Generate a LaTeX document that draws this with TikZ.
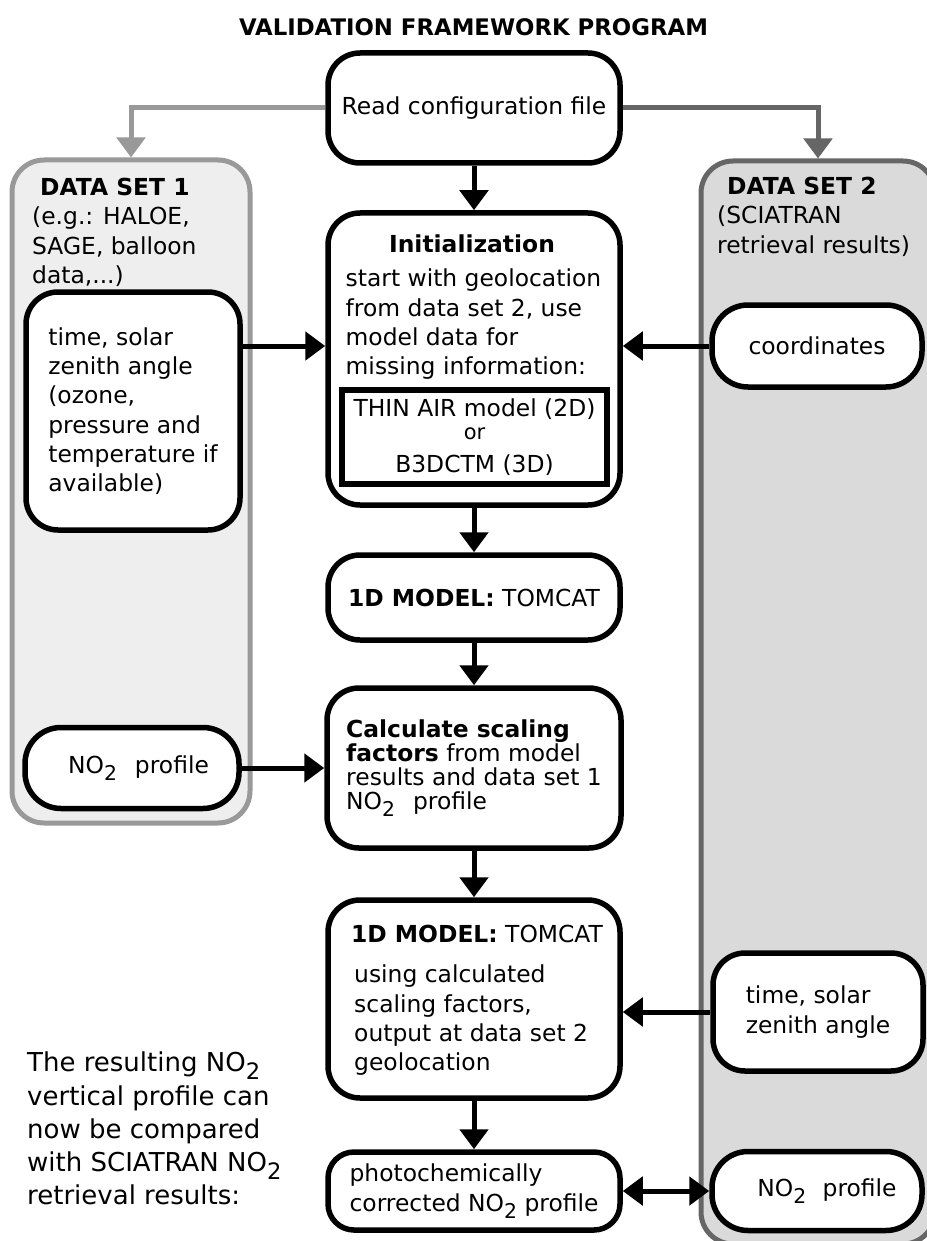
\documentclass[tikz,border=0pt]{standalone}
\usepackage{fontspec}
\setmainfont{DejaVu Sans}
\usepackage{graphicx}
\usetikzlibrary{arrows.meta}

\definecolor{dsonefill}{HTML}{EEEEEE}
\definecolor{dsoneline}{HTML}{999999}
\definecolor{dstwofill}{HTML}{DADADA}
\definecolor{dstwoline}{HTML}{666666}

% NO2 with a lowered, slightly reduced subscript
\newcommand\ntwo{NO\raisebox{-0.3em}{\scalebox{0.87}{2}}}

\begin{document}
\begin{tikzpicture}[x=1pt,y=-1pt,
  every node/.style={font=\fontsize{23.4}{29.3}\selectfont, inner sep=0pt},
  box/.style={draw, line width=5.5pt, rounded corners=32pt, fill=white},
  pill/.style={box, rounded corners=36pt},
  group/.style={line width=5pt, rounded corners=32pt},
  arr/.style={line width=5pt, -{Triangle[length=20pt,width=28pt]}},
  biarr/.style={line width=5pt, {Triangle[length=20pt,width=28pt]}-{Triangle[length=20pt,width=28pt]}},
]
\useasboundingbox (0,0) rectangle (926,1241);
\fill[white] (0,0) rectangle (926,1241);

% title
\node[font=\bfseries\fontsize{22.8}{27}\selectfont] (title) at (473.5,27) {VALIDATION FRAMEWORK PROGRAM};

% the two data-set columns
\node[group, draw=dsoneline, fill=dsonefill, minimum width=238pt, minimum height=663pt] (ds1) at (131,491.5) {};
\node[group, draw=dstwoline, fill=dstwofill, minimum width=234pt, minimum height=1083pt] (ds2) at (818,702.5) {};

\node[anchor=north west, align=left] (ds1lbl) at (32,178)
  {\hspace*{8pt}\textbf{DATA SET 1}\\(e.g.: HALOE,\\SAGE, balloon\\data,...)};
\node[anchor=north west, align=left] (ds2lbl) at (717,177)
  {\hspace*{10pt}\textbf{DATA SET 2}\\(SCIATRAN\\retrieval results)};

% central program flow
\node[box, minimum width=292pt, minimum height=110pt] (cfg) at (474,108) {Read configuration file};

\node[box, minimum width=292pt, minimum height=292pt] (init) at (474,359) {};
\node[anchor=base, font=\bfseries\fontsize{23.4}{29.3}\selectfont] (inithead) at (472,252) {Initialization};
\node[anchor=north west, align=left] (initbody) at (345.5,269)
  {start with geolocation\\from data set 2, use\\model data for\\missing information:};
\node[draw, line width=5.5pt, minimum width=265pt, minimum height=94pt, align=center] (models) at (474.5,437)
  {THIN AIR model (2D)\\[-6pt]{\fontsize{21}{25}\selectfont or}\\[4pt]B3DCTM (3D)};

\node[box, minimum width=292pt, minimum height=85pt] (tc1) at (474,597.5) {\textbf{1D MODEL:} TOMCAT};

\node[box, minimum width=294pt, minimum height=160pt, align=left, font=\fontsize{23.4}{23.8}\selectfont] (calc) at (474,768)
  {\textbf{Calculate scaling}\\\textbf{factors} from model\\results and data set 1\\\ntwo\hspace{0.77em}profile};

\node[box, minimum width=292pt, minimum height=198pt] (tc2) at (474,999) {};
\node[anchor=base] (tc2head) at (477,942) {\textbf{1D MODEL:} TOMCAT};
\node[anchor=north west, align=left] (tc2body) at (354,965)
  {using calculated\\scaling factors,\\output at data set 2\\geolocation};

\node[box, rounded corners=26pt, minimum width=292pt, minimum height=78pt, align=left] (photo) at (474,1191)
  {photochemically\\corrected \ntwo{} profile};

% inputs from data set 1
\node[box, minimum width=214pt, minimum height=238pt, align=left] (time1) at (133,411)
  {time, solar\\zenith angle\\(ozone,\\pressure and\\temperature if\\available)};
\node[pill, minimum width=214pt, minimum height=81pt] (no2a) at (132,768)
  {\hspace*{13pt}\ntwo\hspace{0.77em}profile};

% inputs from data set 2
\node[pill, minimum width=210pt, minimum height=82pt] (coords) at (817,346) {coordinates};
\node[box, minimum width=210pt, minimum height=118pt, align=left] (timeb) at (818,1012)
  {time, solar\\zenith angle};
\node[pill, minimum width=210pt, minimum height=79pt] (no2b) at (817,1191)
  {\hspace*{20pt}\ntwo\hspace{0.7em}profile};

% closing remark
\node[anchor=north west, align=left, font=\fontsize{26}{33.25}\selectfont] (note) at (27,1052)
  {The resulting \ntwo\\vertical profile can\\now be compared\\with SCIATRAN \ntwo\\retrieval results:};

% connectors
\draw[arr, draw=dsoneline] (cfg.west) -| (ds1.north);
\draw[arr, draw=dstwoline] (cfg.east) -| (ds2.north);
\draw[arr] (cfg.south) -- (init.north);
\draw[arr] (time1.east |- coords.west) -- (init.west |- coords.west);
\draw[arr] (coords.west) -- (coords.west -| init.east);
\draw[arr] (init.south) -- (tc1.north);
\draw[arr] (tc1.south) -- (calc.north);
\draw[arr] (no2a.east) -- (no2a.east -| calc.west);
\draw[arr] (calc.south) -- (tc2.north);
\draw[arr] (timeb.west) -- (timeb.west -| tc2.east);
\draw[arr] (tc2.south) -- (photo.north);
\draw[biarr] (photo.east) -- (photo.east -| no2b.west);
\end{tikzpicture}
\end{document}
